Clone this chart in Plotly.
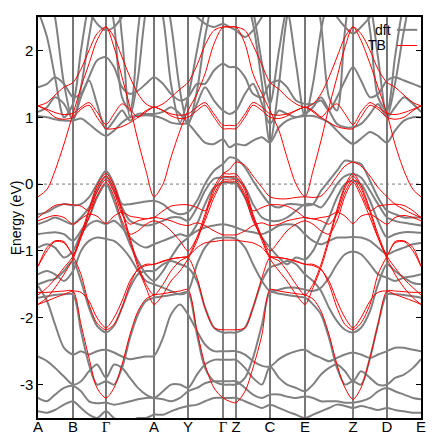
import plotly.graph_objects as go

# k-path: distance along the path for every sampled point
k_grid = [0, 9, 17, 26, 35, 43, 51, 59, 68, 76, 84, 92, 100, 108, 116, 125, 133, 142,
          150, 159, 167, 176, 185, 191.5, 198, 207, 215, 224, 232, 241, 249, 258, 267,
          275, 283, 291, 299, 307, 315, 323, 332, 340, 349, 357, 366, 375, 383]

# high-symmetry points
kpoint_pos = [0, 35, 68, 116, 150, 185, 198, 232, 267, 315, 349, 383]
kpoint_labels = ['A', 'B', 'Γ', 'A', 'Y', 'Γ', 'Z', 'C', 'E', 'Z', 'D', 'E']

# ---- DFT bands (eV) ----
dft_c1 = [1.02, 1.0, 0.97, 0.95, 0.95, 0.98, 0.9, 0.8, 0.72, 0.8, 0.92, 1.0, 1.02, 1.03, 1.02, 0.98, 0.92, 0.9, 0.9, 0.75, 0.62, 0.6, 0.67, 0.55, 0.6, 0.58, 0.65, 0.7, 0.62, 0.85, 0.95, 1.0, 1.02, 1.02, 0.98, 0.92, 0.8, 0.68, 0.6, 0.68, 0.78, 0.72, 0.62, 0.8, 0.95, 1.0, 1.0]
dft_c2 = [1.08, 1.15, 1.3, 1.2, 0.97, 1.3, 1.55, 1.2, 0.82, 0.95, 1.1, 0.95, 1.05, 1.05, 1.05, 1.08, 1.15, 1.05, 0.92, 1.2, 1.45, 1.25, 1.1, 1.05, 1.1, 1.35, 1.5, 1.2, 0.9, 1.1, 1.05, 1.0, 1.05, 1.15, 1.3, 1.1, 0.9, 0.85, 0.85, 0.9, 1.05, 1.2, 1.0, 1.15, 1.3, 1.2, 1.08]
dft_c3 = [3.0, 3.0, 2.5, 1.5, 0.95, 1.45, 2.2, 2.8, 3.0, 2.4, 1.3, 1.1, 2.3, 3.0, 3.0, 3.0, 2.4, 1.4, 0.88, 1.4, 2.2, 2.8, 3.0, 3.0, 3.0, 2.8, 2.4, 1.5, 0.62, 1.5, 2.5, 3.0, 3.0, 3.0, 2.4, 1.3, 1.1, 2.3, 3.0, 3.0, 2.7, 1.9, 1.0, 1.5, 2.3, 2.9, 3.0]
dft_c4 = [2.6, 2.2, 1.6, 1.0, 1.2, 2.0, 2.7, 3.0, 3.0, 3.0, 2.2, 1.0, 1.6, 2.6, 3.0, 2.5, 1.5, 0.92, 1.3, 2.0, 2.6, 3.0, 3.0, 3.0, 3.0, 3.0, 2.6, 1.8, 1.2, 2.0, 2.6, 1.8, 1.0, 1.5, 2.3, 2.8, 3.0, 3.0, 3.0, 3.0, 2.3, 1.3, 1.1, 1.9, 2.7, 3.0, 3.0]
dft_c5 = [2.6, 2.7, 2.9, 3.0, 3.0, 2.9, 2.6, 2.4, 2.3, 2.35, 2.5, 2.7, 2.9, 3.0, 3.0, 3.0, 2.9, 2.7, 2.6, 2.5, 2.4, 2.35, 2.4, 2.35, 2.3, 2.2, 2.3, 2.5, 2.7, 2.9, 3.0, 3.0, 3.0, 3.0, 2.9, 2.7, 2.5, 2.35, 2.25, 2.35, 2.5, 2.7, 2.9, 3.0, 3.0, 3.0, 3.0]
dft_c6 = [1.45, 1.5, 1.6, 1.5, 1.3, 1.35, 1.6, 1.85, 1.9, 1.75, 1.45, 1.35, 1.4, 1.5, 1.6, 1.5, 1.35, 1.25, 1.3, 1.5, 1.5, 1.7, 1.8, 1.75, 1.75, 1.6, 1.35, 1.3, 1.5, 1.55, 1.45, 1.25, 1.2, 1.2, 1.25, 1.1, 1.3, 1.55, 1.75, 1.55, 1.3, 1.35, 1.55, 1.6, 1.55, 1.5, 1.45]
dft_v1 = [-0.45, -0.42, -0.35, -0.3, -0.32, -0.3, -0.2, 0.0, 0.2, 0.0, -0.3, -0.3, -0.28, -0.26, -0.25, -0.3, -0.4, -0.45, -0.42, -0.25, 0.0, 0.2, 0.3, 0.4, 0.38, 0.25, 0.05, -0.15, -0.3, -0.35, -0.3, -0.3, -0.32, -0.3, -0.1, 0.05, 0.2, 0.35, 0.33, 0.3, 0.05, -0.2, -0.4, -0.45, -0.5, -0.5, -0.5]
dft_v2 = [-0.6, -0.55, -0.5, -0.55, -0.6, -0.5, -0.35, -0.1, 0.12, -0.1, -0.35, -0.55, -0.6, -0.62, -0.6, -0.55, -0.5, -0.5, -0.55, -0.35, -0.1, 0.08, 0.1, 0.1, 0.08, -0.05, -0.3, -0.5, -0.55, -0.55, -0.5, -0.4, -0.3, -0.3, -0.35, -0.2, 0.0, 0.12, 0.15, 0.1, -0.1, -0.3, -0.5, -0.55, -0.58, -0.6, -0.62]
dft_v3 = [-0.75, -0.73, -0.72, -0.75, -0.85, -0.7, -0.5, -0.2, 0.0, -0.25, -0.6, -0.9, -1.15, -1.35, -1.45, -1.3, -1.1, -0.9, -0.8, -0.6, -0.3, -0.05, 0.02, 0.02, 0.0, -0.2, -0.5, -0.8, -0.95, -1.1, -1.2, -1.1, -1.13, -1.0, -0.75, -0.5, -0.2, 0.0, 0.05, 0.0, -0.25, -0.55, -0.8, -0.75, -0.72, -0.72, -0.73]
dft_v4 = [-0.95, -0.9, -0.95, -1.1, -1.0, -0.75, -0.6, -0.55, -0.6, -0.55, -0.65, -0.8, -0.9, -0.95, -0.9, -0.85, -0.8, -0.75, -0.78, -0.7, -0.65, -0.62, -0.6, -0.62, -0.65, -0.7, -0.72, -0.75, -0.7, -0.62, -0.6, -0.62, -0.75, -0.85, -0.9, -0.85, -0.8, -0.8, -0.79, -0.8, -0.85, -0.95, -1.05, -1.0, -0.95, -0.9, -0.88]
dft_v5 = [-1.35, -1.3, -1.35, -1.45, -1.3, -1.0, -0.85, -0.8, -0.82, -0.85, -0.95, -1.1, -1.3, -1.45, -1.5, -1.55, -1.6, -1.65, -1.6, -1.2, -0.95, -0.82, -0.8, -0.8, -0.82, -0.95, -1.2, -1.45, -1.6, -1.58, -1.55, -1.55, -1.58, -1.6, -1.55, -1.4, -1.2, -1.05, -1.01, -1.05, -1.2, -1.35, -1.4, -1.45, -1.4, -1.38, -1.35]
dft_v6 = [-1.5, -1.45, -1.42, -1.3, -1.15, -1.45, -1.85, -2.12, -2.22, -2.12, -1.85, -1.55, -1.35, -1.3, -1.3, -1.2, -1.15, -1.2, -1.25, -1.45, -1.85, -2.15, -2.22, -2.22, -2.22, -2.15, -1.85, -1.45, -1.25, -1.2, -1.15, -1.2, -1.35, -1.45, -1.6, -1.85, -2.05, -2.18, -2.22, -2.15, -1.9, -1.5, -1.2, -1.3, -1.4, -1.48, -1.5]
dft_v7 = [-1.52, -1.75, -2.1, -2.45, -2.55, -2.5, -2.55, -2.5, -2.48, -2.52, -2.58, -2.62, -2.6, -2.58, -2.57, -2.3, -1.95, -1.8, -1.95, -2.2, -2.4, -2.5, -2.5, -2.5, -2.5, -2.55, -2.65, -2.72, -2.73, -2.62, -2.55, -2.5, -2.48, -2.55, -2.6, -2.65, -2.6, -2.55, -2.52, -2.55, -2.6, -2.55, -2.5, -2.45, -2.45, -2.48, -2.5]
dft_v8 = [-2.58, -2.65, -2.75, -2.88, -3.0, -2.95, -2.8, -2.7, -2.9, -2.7, -2.75, -2.9, -3.05, -3.15, -3.2, -3.1, -3.0, -3.0, -3.05, -2.85, -2.7, -2.63, -2.63, -2.63, -2.63, -2.75, -2.9, -3.0, -2.73, -2.9, -3.0, -3.05, -3.1, -3.0, -2.85, -2.75, -2.7, -2.8, -2.95, -2.8, -2.9, -3.0, -3.0, -2.9, -2.85, -2.75, -2.62]
dft_v9 = [-3.2, -3.25, -3.15, -3.05, -3.02, -3.1, -3.25, -3.28, -3.27, -3.3, -3.28, -3.25, -3.22, -3.2, -3.2, -3.22, -3.25, -3.2, -3.1, -3.05, -2.98, -2.95, -2.95, -2.95, -2.95, -3.05, -3.15, -3.2, -3.15, -3.15, -3.18, -3.2, -3.18, -3.2, -3.25, -3.25, -3.25, -3.27, -3.27, -3.25, -3.2, -3.1, -3.05, -3.1, -3.15, -3.2, -3.22]
dft_v10 = [-3.4, -3.42, -3.38, -3.3, -3.25, -3.35, -3.45, -3.5, -3.4, -3.5, -3.55, -3.55, -3.5, -3.5, -3.45, -3.45, -3.4, -3.35, -3.32, -3.3, -3.25, -3.2, -3.2, -3.2, -3.2, -3.25, -3.3, -3.35, -3.3, -3.35, -3.4, -3.45, -3.5, -3.45, -3.4, -3.35, -3.3, -3.32, -3.35, -3.32, -3.35, -3.38, -3.35, -3.38, -3.4, -3.42, -3.42]
dft_v11 = [-1.7, -1.68, -1.66, -1.65, -1.65, -2.2, -2.7, -3.0, -2.95, -3.0, -2.75, -2.3, -1.95, -1.75, -1.7, -1.68, -1.66, -1.64, -1.62, -2.25, -2.75, -2.95, -3.0, -3.0, -3.0, -2.9, -2.6, -2.1, -1.62, -1.64, -1.66, -1.68, -1.7, -1.8, -1.95, -2.3, -2.75, -3.0, -2.95, -3.0, -2.6, -2.1, -1.65, -1.65, -1.66, -1.68, -1.7]

# ---- TB bands (eV) ----
tb_c1 = [1.17, 1.22, 1.33, 1.45, 1.52, 1.72, 2.0, 2.25, 2.35, 2.2, 1.9, 1.6, 1.35, 1.2, 1.15, 1.2, 1.3, 1.42, 1.52, 1.78, 2.08, 2.3, 2.35, 2.35, 2.35, 2.3, 2.08, 1.78, 1.52, 1.42, 1.3, 1.2, 1.15, 1.2, 1.35, 1.6, 1.9, 2.2, 2.35, 2.25, 2.0, 1.72, 1.52, 1.45, 1.33, 1.22, 1.17]
tb_c2 = [-0.19, -0.08, 0.2, 0.6, 1.05, 1.45, 1.8, 2.15, 2.35, 2.05, 1.6, 1.15, 0.65, 0.2, -0.19, 0.0, 0.4, 0.8, 1.1, 1.35, 1.65, 2.1, 2.35, 2.35, 2.35, 2.1, 1.65, 1.35, 1.1, 0.8, 0.4, 0.0, -0.19, 0.2, 0.65, 1.15, 1.6, 2.05, 2.35, 2.15, 1.8, 1.45, 1.05, 0.6, 0.2, -0.08, -0.19]
tb_c3 = [1.17, 1.12, 1.07, 1.04, 1.06, 1.15, 1.22, 1.08, 0.89, 1.05, 1.2, 1.12, 1.0, 1.08, 1.15, 1.1, 1.05, 1.03, 1.05, 1.15, 1.22, 1.05, 0.88, 0.88, 0.88, 1.05, 1.22, 1.15, 1.05, 1.03, 1.05, 1.1, 1.15, 1.08, 1.0, 1.12, 1.2, 1.05, 0.89, 1.08, 1.22, 1.15, 1.06, 1.04, 1.07, 1.12, 1.17]
tb_c4 = [1.17, 1.1, 1.0, 0.97, 1.0, 1.12, 1.18, 1.0, 0.83, 0.83, 0.86, 0.92, 1.0, 1.1, 1.15, 1.1, 1.02, 0.98, 1.0, 1.1, 1.18, 1.0, 0.83, 0.83, 0.83, 1.0, 1.18, 1.1, 1.0, 0.98, 1.02, 1.1, 1.15, 1.1, 1.0, 0.92, 0.86, 0.83, 0.83, 1.0, 1.18, 1.12, 1.0, 0.97, 1.0, 1.1, 1.17]
tb_v1 = [-1.66, -1.55, -1.42, -1.25, -1.08, -0.75, -0.38, -0.02, 0.16, -0.02, -0.38, -0.8, -1.2, -1.5, -1.66, -1.5, -1.3, -1.15, -1.08, -0.8, -0.45, -0.05, 0.15, 0.15, 0.15, -0.05, -0.45, -0.8, -1.08, -1.15, -1.3, -1.5, -1.66, -1.5, -1.2, -0.8, -0.38, -0.02, 0.16, -0.02, -0.38, -0.75, -1.08, -1.25, -1.42, -1.55, -1.66]
tb_v2 = [-1.8, -1.7, -1.55, -1.35, -1.12, -0.8, -0.42, -0.06, 0.12, -0.06, -0.42, -0.85, -1.25, -1.55, -1.8, -1.65, -1.45, -1.3, -1.12, -0.85, -0.5, -0.1, 0.11, 0.11, 0.11, -0.1, -0.5, -0.85, -1.12, -1.3, -1.45, -1.65, -1.8, -1.55, -1.25, -0.85, -0.42, -0.06, 0.12, -0.06, -0.42, -0.8, -1.12, -1.35, -1.55, -1.7, -1.8]
tb_v3 = [-0.5, -0.4, -0.32, -0.3, -0.31, -0.33, -0.4, -0.12, 0.07, -0.12, -0.45, -0.6, -0.55, -0.52, -0.5, -0.4, -0.33, -0.31, -0.31, -0.35, -0.4, -0.15, 0.06, 0.06, 0.06, -0.15, -0.4, -0.35, -0.31, -0.31, -0.33, -0.4, -0.5, -0.52, -0.55, -0.6, -0.45, -0.12, 0.07, -0.12, -0.4, -0.33, -0.31, -0.3, -0.32, -0.4, -0.5]
tb_v4 = [-1.23, -0.95, -0.85, -0.86, -1.05, -0.8, -0.5, -0.18, 0.03, -0.18, -0.55, -0.75, -0.7, -0.6, -0.55, -0.6, -0.7, -0.85, -1.0, -0.8, -0.55, -0.2, 0.03, 0.03, 0.03, -0.2, -0.55, -0.8, -1.0, -0.85, -0.7, -0.6, -0.55, -0.6, -0.7, -0.75, -0.55, -0.18, 0.03, -0.18, -0.5, -0.8, -1.05, -0.86, -0.85, -0.95, -1.23]
tb_v5 = [-0.55, -0.5, -0.47, -0.5, -0.6, -0.52, -0.45, -0.48, -0.59, -0.48, -0.42, -0.48, -0.5, -0.52, -0.5, -0.52, -0.55, -0.6, -0.62, -0.58, -0.62, -0.7, -0.76, -0.76, -0.76, -0.7, -0.62, -0.58, -0.62, -0.6, -0.55, -0.52, -0.5, -0.52, -0.5, -0.48, -0.42, -0.48, -0.59, -0.48, -0.45, -0.52, -0.6, -0.5, -0.47, -0.5, -0.55]
tb_v6 = [-1.23, -1.0, -0.86, -0.88, -1.08, -1.35, -1.8, -2.08, -2.18, -2.1, -1.85, -1.5, -1.27, -1.2, -1.2, -1.16, -1.12, -1.1, -1.1, -1.4, -1.85, -2.15, -2.18, -2.18, -2.18, -2.15, -1.85, -1.4, -1.1, -1.1, -1.12, -1.16, -1.2, -1.2, -1.27, -1.5, -1.85, -2.1, -2.18, -2.08, -1.8, -1.35, -1.08, -0.88, -0.86, -1.0, -1.23]
tb_v7 = [-1.62, -1.62, -1.61, -1.6, -1.6, -2.1, -2.6, -3.05, -3.2, -3.05, -2.7, -2.25, -1.9, -1.72, -1.66, -1.64, -1.62, -1.6, -1.58, -2.2, -2.7, -3.05, -3.2, -3.25, -3.27, -3.1, -2.75, -2.25, -1.58, -1.6, -1.62, -1.64, -1.66, -1.72, -1.9, -2.25, -2.7, -3.05, -3.22, -3.05, -2.6, -2.1, -1.6, -1.6, -1.61, -1.62, -1.62]
tb_v8 = [-1.8, -1.75, -1.7, -1.65, -1.6, -1.62, -1.75, -2.0, -2.15, -2.0, -1.75, -1.45, -1.28, -1.22, -1.2, -1.15, -1.12, -1.1, -1.08, -0.95, -0.88, -0.86, -0.84, -0.84, -0.84, -0.86, -0.88, -0.95, -1.08, -1.1, -1.12, -1.15, -1.2, -1.22, -1.28, -1.45, -1.75, -2.0, -2.15, -2.0, -1.75, -1.62, -1.6, -1.65, -1.7, -1.75, -1.8]
tb_v9 = [None, None, None, None, None, None, None, None, None, None, None, None, None, None, None, None, None, None, None, None, None, None, 0.16, 0.22, 0.33, 0.28, 0.12, -0.05, -0.19, -0.22, -0.22, -0.2, -0.19, -0.2, -0.18, -0.05, 0.12, 0.27, 0.33, 0.27, 0.12, -0.05, -0.19, -0.3, -0.38, -0.45, -0.5]

dft_bands = [dft_c1, dft_c2, dft_c3, dft_c4, dft_c5, dft_c6, dft_v1, dft_v2, dft_v3, dft_v4,
             dft_v5, dft_v6, dft_v7, dft_v8, dft_v9, dft_v10, dft_v11]
tb_bands = [tb_c1, tb_c2, tb_c3, tb_c4, tb_v1, tb_v2, tb_v3, tb_v4, tb_v5, tb_v6, tb_v7, tb_v8, tb_v9]

FONT = 'Liberation Sans, Arial, sans-serif'
GREY = '#808080'
RED = '#ff0000'

fig = go.Figure()

for band in dft_bands:
    fig.add_trace(go.Scatter(x=k_grid, y=band, mode='lines', showlegend=False,
                             line=dict(color=GREY, width=2, shape='spline', smoothing=0.8)))
for band in tb_bands:
    fig.add_trace(go.Scatter(x=k_grid, y=band, mode='lines', showlegend=False,
                             line=dict(color=RED, width=1, shape='spline', smoothing=0.8)))

# vertical lines at the high-symmetry points
for i, xk in enumerate(kpoint_pos[1:-1], start=1):
    thin = i in (5, 6, 9)
    fig.add_shape(type='line', x0=xk, x1=xk, y0=-3.5, y1=2.5, xref='x', yref='y',
                  line=dict(color='black' if thin else '#777777', width=1 if thin else 2),
                  layer='below')

# Fermi level
fig.add_shape(type='line', x0=0, x1=383, y0=0, y1=0, xref='x', yref='y',
              line=dict(color='#777777', width=1, dash='dot'), layer='below')

# gnuplot-style key: text, then line sample
for label, color, width, px, py in [('dft', GREY, 2, 0.926, 0.968), ('TB', RED, 1, 0.915, 0.929)]:
    fig.add_annotation(x=px, y=py, xref='paper', yref='paper', text=label,
                       showarrow=False, xanchor='right', yanchor='middle',
                       font=dict(family=FONT, size=14, color='black'))
    fig.add_shape(type='line', x0=0.937, x1=0.99, y0=py, y1=py, xref='paper', yref='paper',
                  line=dict(color=color, width=width))

# y-axis title
fig.add_annotation(x=-0.058, y=0.5, xref='paper', yref='paper', text='Energy (eV)',
                   textangle=-90, showarrow=False, xanchor='center', yanchor='middle',
                   font=dict(family=FONT, size=14, color='black'))

# Γ is drawn in a serif face, as in the original
tick_text = [('<span style="font-family:Liberation Serif, serif">%s</span>' % t) if t == 'Γ' else t
             for t in kpoint_labels]

# the page body adds an 8px offset, so the figure is sized to the window minus that
fig.update_layout(
    width=431, height=428,
    margin=dict(l=30, r=18, t=8.5, b=17.5),
    paper_bgcolor='white', plot_bgcolor='white',
    font=dict(family=FONT, size=14, color='black'),
    xaxis=dict(range=[0, 383], tickvals=kpoint_pos, ticktext=tick_text,
               showgrid=False, zeroline=False, ticks='', showline=True, mirror=True,
               linecolor='black', linewidth=1.5, tickfont=dict(size=15),
               ticklabelstandoff=-6, automargin=False),
    yaxis=dict(range=[-3.5, 2.5], tickvals=[-3, -2, -1, 0, 1, 2],
               ticktext=['-3', '-2', '-1', '0', '1', '2'],
               showgrid=False, zeroline=False, ticks='inside', ticklen=5,
               tickcolor='black', showline=True, mirror='ticks', linecolor='black',
               linewidth=1.5, tickfont=dict(size=15), automargin=False),
)

fig.write_html('out.html')
